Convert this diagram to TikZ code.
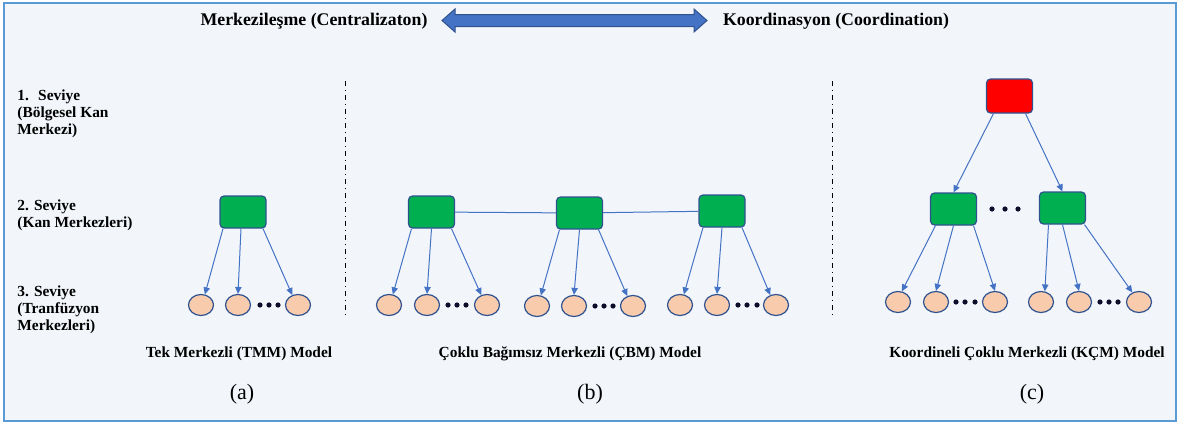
\documentclass[tikz,border=0pt]{standalone}
\usepackage{fontspec}
\setmainfont{Liberation Serif}
\usetikzlibrary{shapes.geometric,arrows.meta}

\definecolor{bgblue}{HTML}{F2F6FB}
\definecolor{framebl}{HTML}{5B9BD5}
\definecolor{linebl}{HTML}{4472C4}
\definecolor{edgebl}{HTML}{2F528F}
\definecolor{kangreen}{HTML}{00B050}
\definecolor{tfpeach}{HTML}{F8CBAD}
\definecolor{dotc}{HTML}{0D0D2B}

\tikzset{
  kanbox/.style={draw=edgebl,line width=0.6pt,rounded corners=2pt,fill=kangreen,
    minimum width=23pt,minimum height=16pt,inner sep=0pt},
  redbox/.style={kanbox,fill=red,minimum height=17pt},
  tfnode/.style={ellipse,draw=edgebl,line width=0.6pt,fill=tfpeach,
    minimum width=12.5pt,minimum height=10.5pt,inner sep=0pt},
  link/.style={draw=linebl,line width=0.5pt,-{Triangle[length=3.5pt,width=3.2pt]}},
  peer/.style={draw=linebl,line width=0.5pt},
  lvl/.style={font=\bfseries\fontsize{7.7}{8.5}\selectfont,align=left,anchor=west,inner sep=0pt},
  captxt/.style={font=\bfseries\fontsize{7.7}{9}\selectfont,inner sep=0pt},
  ttl/.style={font=\bfseries\fontsize{8.9}{10}\selectfont,inner sep=0pt},
  tagtxt/.style={font=\fontsize{11}{13}\selectfont,inner sep=0pt},
  sep/.style={black,line width=0.5pt,dash pattern=on 2.5pt off 2pt on 0.5pt off 2pt}
}

\begin{document}
\begin{tikzpicture}[x=0.5pt,y=-0.5pt]
  \path[use as bounding box] (0,0) rectangle (1179,423);
  \fill[bgblue] (4,3) rectangle (1176,421);
  \draw[framebl,line width=0.8pt] (4,3) rectangle (1176,421);

  % top
  \node[ttl] (cent) at (314,21) {Merkezileşme (Centralizaton)};
  \node[ttl] (coord) at (836,21) {Koordinasyon (Coordination)};
  \filldraw[fill=linebl,draw=edgebl,line width=0.5pt] (442,20.5) -- (455,9) -- (455,14.5)
    -- (694,14.5) -- (694,9) -- (707,20.5) -- (694,32) -- (694,26.5) -- (455,26.5) -- (455,32) -- cycle;

  % levels
  \node[lvl] (lv1) at (17,114) {1.\hspace{0.6em}Seviye\\(Bölgesel Kan\\Merkezi)};
  \node[lvl] (lv2) at (17,215.5) {2. Seviye\\(Kan Merkezleri)};
  \node[lvl] (lv3) at (17,310) {3. Seviye\\(Tranfüzyon\\Merkezleri)};

  \draw[sep] (345,81) -- (345,317);
  \draw[sep] (832,81) -- (832,317);

  % (a)
  \node[kanbox] (ga) at (243,212) {};
  \node[tfnode] (a1) at (201,305) {};
  \node[tfnode] (a2) at (238,305) {};
  \node[tfnode] (a3) at (298,305) {};
  \draw[link] ([xshift=-10pt]ga.south) -- (a1.70);
  \draw[link] ([xshift=-1pt]ga.south) -- (a2.north);
  \draw[link] ([xshift=10pt]ga.south) -- (a3.120);
  \fill[dotc] (260,305) circle (1.3pt) (269,305) circle (1.3pt) (278,305) circle (1.3pt);

  % (b)
  \node[kanbox] (gb1) at (431.5,212) {};
  \node[kanbox] (gb2) at (579.5,213) {};
  \node[kanbox] (gb3) at (722,211) {};
  \draw[peer] (gb1) -- (gb2);
  \draw[peer] (gb2) -- (gb3);
  \node[tfnode] (b1) at (389,305) {};
  \node[tfnode] (b2) at (427,305) {};
  \node[tfnode] (b3) at (487,305) {};
  \node[tfnode] (b4) at (537,306) {};
  \node[tfnode] (b5) at (574,306) {};
  \node[tfnode] (b6) at (633,306) {};
  \node[tfnode] (b7) at (680,305) {};
  \node[tfnode] (b8) at (717,305) {};
  \node[tfnode] (b9) at (776,305) {};
  \draw[link] ([xshift=-10pt]gb1.south) -- (b1.70);
  \draw[link] ([xshift=0pt]gb1.south) -- (b2.north);
  \draw[link] ([xshift=10pt]gb1.south) -- (b3.120);
  \draw[link] ([xshift=-10pt]gb2.south) -- (b4.70);
  \draw[link] ([xshift=0pt]gb2.south) -- (b5.north);
  \draw[link] ([xshift=9.5pt]gb2.south) -- (b6.120);
  \draw[link] ([xshift=-9.5pt]gb3.south) -- (b7.70);
  \draw[link] ([xshift=0pt]gb3.south) -- (b8.north);
  \draw[link] ([xshift=10pt]gb3.south) -- (b9.120);
  \fill[dotc] (448,305) circle (1.3pt) (457,305) circle (1.3pt) (466,305) circle (1.3pt);
  \fill[dotc] (595,306) circle (1.3pt) (604,306) circle (1.3pt) (613,306) circle (1.3pt);
  \fill[dotc] (738,305) circle (1.3pt) (747,305) circle (1.3pt) (757,305) circle (1.3pt);

  % (c)
  \node[redbox] (rc) at (1009.5,96) {};
  \node[kanbox] (gc1) at (953.5,209) {};
  \node[kanbox] (gc2) at (1062.5,208) {};
  \draw[link] ([xshift=-8pt]rc.south) -- (gc1.north);
  \draw[link] ([xshift=8pt]rc.south) -- (gc2.north);
  \fill[dotc] (992,209) circle (1.3pt) (1005,209) circle (1.3pt) (1018,209) circle (1.3pt);
  \node[tfnode] (c1) at (898,302) {};
  \node[tfnode] (c2) at (936,302) {};
  \node[tfnode] (c3) at (995,302) {};
  \node[tfnode] (c4) at (1041,302) {};
  \node[tfnode] (c5) at (1079,302) {};
  \node[tfnode] (c6) at (1139,302) {};
  \draw[link] ([xshift=-9pt]gc1.south) -- (c1.70);
  \draw[link] ([xshift=0pt]gc1.south) -- (c2.north);
  \draw[link] ([xshift=10pt]gc1.south) -- (c3.north);
  \draw[link] ([xshift=-7pt]gc2.south) -- (c4.70);
  \draw[link] ([xshift=0pt]gc2.south) -- (c5.north);
  \draw[link] ([xshift=11pt]gc2.south) -- (c6.125);
  \fill[dotc] (956,302) circle (1.3pt) (965,302) circle (1.3pt) (975,302) circle (1.3pt);
  \fill[dotc] (1100,302) circle (1.3pt) (1109,302) circle (1.3pt) (1118,302) circle (1.3pt);

  % captions
  \node[captxt] (capa) at (239,354) {Tek Merkezli (TMM) Model};
  \node[captxt] (capb) at (570,354) {Çoklu Bağımsız Merkezli (ÇBM) Model};
  \node[captxt] (capc) at (1027,354) {Koordineli Çoklu Merkezli (KÇM) Model};
  \node[tagtxt] (taga) at (242,394) {(a)};
  \node[tagtxt] (tagb) at (590,394) {(b)};
  \node[tagtxt] (tagc) at (1032,394) {(c)};
\end{tikzpicture}
\end{document}
